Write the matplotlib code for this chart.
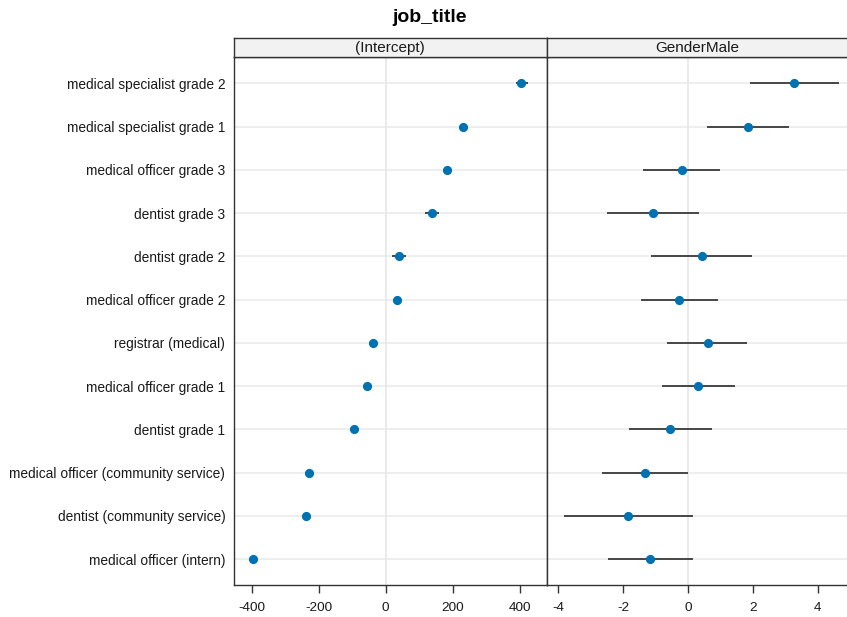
import numpy as np
import matplotlib.pyplot as plt

plt.rcParams['font.family'] = ['Liberation Sans', 'DejaVu Sans']

# Categorías (de abajo hacia arriba)
puestos = [
    "medical officer (intern)",
    "dentist (community service)",
    "medical officer (community service)",
    "dentist grade 1",
    "medical officer grade 1",
    "registrar (medical)",
    "medical officer grade 2",
    "dentist grade 2",
    "dentist grade 3",
    "medical officer grade 3",
    "medical specialist grade 1",
    "medical specialist grade 2",
]

# (Intercept): estimación e intervalo
intercepto = [-396, -237, -229, -94, -55, -39, 35, 39, 139, 182, 230, 403]
intercepto_lo = [-402, -243, -235, -100, -61, -45, 29, 18, 118, 176, 224, 388]
intercepto_hi = [-390, -231, -223, -88, -49, -33, 41, 60, 160, 188, 236, 424]

# GenderMale: estimación e intervalo
genero = [-1.16, -1.85, -1.33, -0.56, 0.32, 0.61, -0.28, 0.43, -1.09, -0.20, 1.84, 3.28]
genero_lo = [-2.47, -3.83, -2.66, -1.82, -0.81, -0.66, -1.46, -1.14, -2.50, -1.38, 0.59, 1.90]
genero_hi = [0.14, 0.14, 0.01, 0.74, 1.46, 1.82, 0.91, 1.98, 0.34, 0.98, 3.10, 4.66]

titulos = ["(Intercept)", "GenderMale"]
ticks_int = [-400, -200, 0, 200, 400]
ticks_gen = [-4, -2, 0, 2, 4]

azul = "#0072B2"
borde = "#333333"

fig = plt.figure(figsize=(8.47, 6.17), dpi=100)
y = np.arange(1, len(puestos) + 1)

W, H = 847, 617
def caja(x0, y0, x1, y1):
    return [x0 / W, 1 - y1 / H, (x1 - x0) / W, (y1 - y0) / H]

ax1 = fig.add_axes(caja(233.7, 57.3, 546.7, 585))
ax2 = fig.add_axes(caja(546.7, 57.3, 847, 585))

paneles = [
    (ax1, intercepto, intercepto_lo, intercepto_hi, ticks_int, (-453.7, 480.6)),
    (ax2, genero, genero_lo, genero_hi, ticks_gen, (-4.36, 4.90)),
]

for ax, est, lo, hi, ticks, lim in paneles:
    for yi in y:
        ax.axhline(yi, color="#ebebeb", lw=1.2, zorder=0)
    ax.axvline(0, color="#e6e6e6", lw=1.2, zorder=0)
    ax.hlines(y, lo, hi, color="#2a2a2a", lw=1.2, zorder=2)
    ax.plot(est, y, "o", color=azul, ms=5.6, zorder=3)
    ax.set_xlim(*lim)
    ax.set_ylim(0.4, 12.6)
    ax.set_xticks(ticks)
    ax.set_xticklabels([str(t) for t in ticks])
    ax.tick_params(axis="x", length=6, width=1.0, color=borde, labelsize=9.7,
                   labelcolor="#1a1a1a", pad=6)
    for s in ax.spines.values():
        s.set_color(borde)
        s.set_linewidth(1.0)

ax1.set_yticks(y)
ax1.set_yticklabels(puestos)
ax1.tick_params(axis="y", length=0, labelsize=9.9, labelcolor="#1a1a1a", pad=6)
ax2.set_yticks([])
ax2.spines["right"].set_visible(False)

# Franjas con el nombre de cada término
for (x0, x1), texto in zip([(233.7, 546.7), (546.7, 847)], titulos):
    st = fig.add_axes(caja(x0, 37.7, x1, 57.3))
    st.set_facecolor("#f2f2f2")
    st.set_xticks([])
    st.set_yticks([])
    for s in st.spines.values():
        s.set_color(borde)
        s.set_linewidth(1.0)
    if x1 >= 847:
        st.spines["right"].set_visible(False)
    st.text(0.5, 0.45, texto, ha="center", va="center", fontsize=11,
            color="#1a1a1a", transform=st.transAxes)

fig.text(430 / W, 1 - 17 / H, "job_title", ha="center", va="center",
         fontsize=14, fontweight="bold")

fig.savefig("out.png", dpi=100)
